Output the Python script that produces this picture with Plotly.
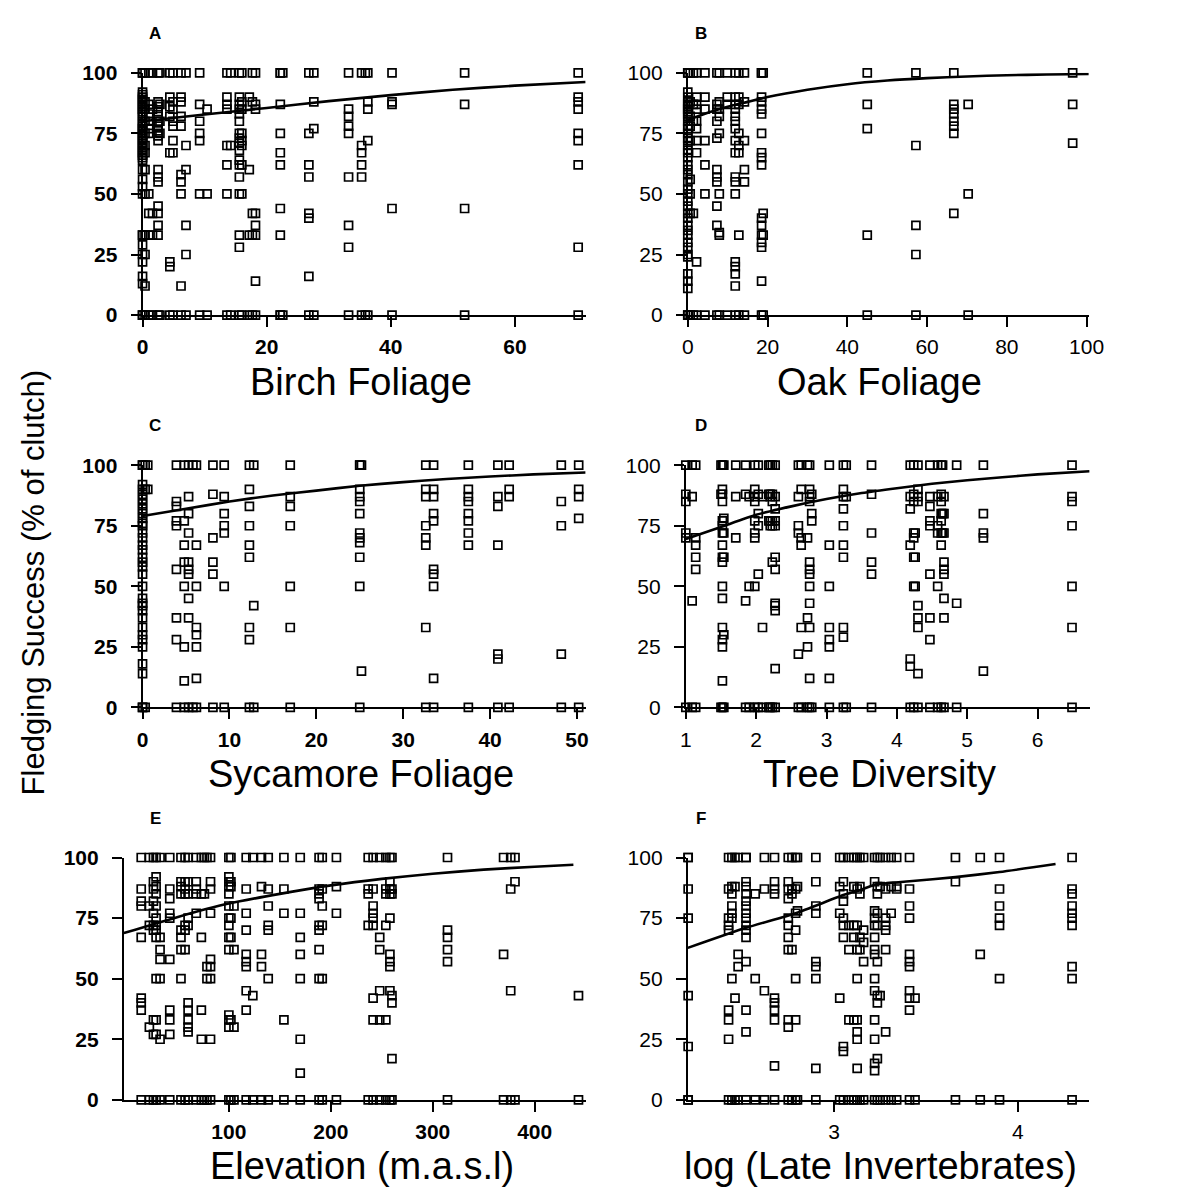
import plotly.graph_objects as go

# ---------------- data ----------------
# each entry: (x value, [fledging success values observed at that x])
birch_cols = [
    (0.0, [100, 100, 92, 91, 90, 89, 88, 87, 86, 85, 84, 83, 82, 80, 79, 78, 77, 76, 75, 74, 73, 72, 71, 70,
           69, 68, 67, 66, 65, 64, 60, 56, 53, 50, 33, 33, 29, 25, 22, 16, 13, 0, 0]),
    (0.4, [100, 88, 85, 80, 75, 70, 67, 60, 50, 33, 25, 12, 0]),
    (1.0, [100, 87, 83, 80, 77, 75, 50, 42, 33, 0]),
    (1.6, [100, 85, 42, 33, 0]),
    (2.5, [100, 88, 86, 84, 82, 80, 78, 76, 74, 72, 60, 57, 55, 45, 42, 37, 33, 0]),
    (2.8, [100, 87, 80, 75, 0]),
    (4.4, [100, 90, 86, 82, 67, 22, 20, 0]),
    (4.9, [100, 88, 85, 80, 78, 72, 67, 0]),
    (6.2, [100, 90, 88, 82, 78, 58, 55, 50, 12, 0]),
    (7.0, [100, 70, 60, 37, 25, 0]),
    (9.2, [100, 87, 80, 75, 72, 50, 0]),
    (10.4, [85, 50, 0]),
    (13.6, [100, 90, 87, 85, 70, 62, 50, 0]),
    (14.2, [100, 70, 0]),
    (15.6, [100, 90, 87, 85, 83, 80, 75, 73, 71, 68, 64, 62, 57, 50, 33, 28, 0]),
    (16.0, [100, 88, 85, 75, 72, 70, 62, 50, 0]),
    (17.2, [90, 60, 33, 0]),
    (17.7, [100, 88, 42, 33, 0]),
    (18.2, [100, 87, 85, 42, 37, 33, 14, 0]),
    (22.2, [100, 100, 87, 75, 67, 62, 44, 33, 0, 0]),
    (22.6, [100, 0]),
    (26.8, [100, 75, 62, 57, 42, 40, 16, 0]),
    (27.6, [100, 88, 77, 0]),
    (33.2, [100, 85, 82, 78, 75, 57, 37, 28, 0]),
    (35.3, [100, 70, 67, 62, 57, 0]),
    (35.9, [100, 0]),
    (36.3, [100, 88, 85, 72, 0]),
    (40.2, [100, 88, 87, 44, 0]),
    (51.9, [100, 87, 44, 0]),
    (70.2, [100, 90, 88, 85, 75, 72, 62, 28, 0]),
]
birch_fit_x = [0, 10, 20, 30, 40, 50, 60, 71.4]
birch_fit_y = [80, 82.8, 85.5, 88.3, 90.8, 93, 94.7, 96.2]

oak_cols = [
    (0.0, [100, 100, 92, 90, 88, 87, 86, 85, 84, 83, 82, 80, 78, 77, 75, 73, 72, 70, 68, 67, 65, 62, 60, 58,
           55, 52, 50, 47, 45, 42, 40, 37, 35, 33, 30, 28, 25, 24, 17, 14, 11, 0, 0]),
    (0.6, [100, 88, 82, 78, 72, 56, 50, 42, 0]),
    (1.4, [100, 87, 80, 42, 0]),
    (2.2, [100, 90, 87, 85, 80, 77, 72, 67, 22, 0]),
    (4.3, [100, 90, 85, 72, 62, 50, 0]),
    (7.3, [100, 87, 85, 80, 73, 60, 57, 55, 45, 37, 0]),
    (7.9, [100, 88, 85, 82, 75, 50, 34, 33, 0]),
    (9.9, [100, 90, 87, 0]),
    (11.9, [100, 90, 87, 85, 82, 80, 77, 72, 67, 57, 55, 50, 22, 20, 17, 12, 0]),
    (12.8, [100, 90, 87, 75, 70, 67, 33, 0]),
    (14.2, [100, 88, 72, 60, 55, 0]),
    (18.5, [100, 100, 90, 88, 85, 83, 75, 67, 65, 62, 40, 37, 33, 30, 28, 14, 0]),
    (18.9, [100, 42, 33, 0]),
    (45.0, [100, 87, 77, 33, 0]),
    (57.2, [100, 70, 37, 25, 0]),
    (66.7, [100, 87, 85, 83, 80, 78, 75, 42]),
    (70.3, [87, 50, 0]),
    (96.5, [100, 87, 71]),
]
oak_fit_x = [0, 5, 10, 15, 20, 30, 40, 50, 60, 70, 80, 90, 101]
oak_fit_y = [80.5, 83.5, 86, 88, 90, 93, 95.3, 96.8, 97.8, 98.5, 99, 99.3, 99.5]

sycamore_cols = [
    (0.0, [100, 100, 92, 90, 88, 86, 84, 82, 80, 78, 76, 75, 72, 70, 67, 65, 62, 60, 58, 55, 50, 45, 43, 42,
           40, 37, 33, 30, 28, 25, 18, 14, 0, 0]),
    (0.3, [100, 90, 0]),
    (0.6, [100, 90]),
    (3.9, [100, 85, 83, 77, 75, 57, 37, 28, 0]),
    (4.8, [100, 77, 67, 60, 50, 25, 11, 0]),
    (5.3, [100, 87, 80, 72, 60, 57, 55, 45, 37, 0]),
    (5.8, [100, 0]),
    (6.2, [100, 67, 50, 33, 30, 25, 12, 0]),
    (8.1, [100, 88, 70, 60, 55, 0]),
    (9.4, [100, 87, 80, 75, 72, 50, 0]),
    (12.3, [100, 90, 83, 75, 67, 62, 33, 28, 0]),
    (12.8, [100, 42, 0]),
    (17.0, [100, 87, 83, 75, 50, 33, 0]),
    (25.0, [100, 100, 90, 87, 85, 80, 72, 70, 68, 62, 50, 0]),
    (25.2, [100, 15]),
    (32.6, [100, 90, 87, 75, 70, 67, 33, 0]),
    (33.5, [100, 90, 87, 80, 77, 57, 55, 50, 12, 0]),
    (37.5, [100, 90, 87, 85, 80, 77, 72, 67, 0]),
    (40.9, [100, 87, 83, 67, 22, 20, 0]),
    (42.2, [100, 90, 87, 0]),
    (48.2, [100, 85, 75, 22, 0]),
    (50.2, [100, 90, 87, 78, 0]),
]
sycamore_fit_x = [0, 5, 10, 15, 20, 25, 30, 35, 40, 45, 51]
sycamore_fit_y = [79, 82, 85, 87.5, 89.5, 91.5, 93, 94.3, 95.3, 96.2, 97]

diversity_cols = [
    (1.00, [100, 88, 85, 72, 70, 0]),
    (1.09, [100, 87, 44, 0]),
    (1.14, [100, 70, 67, 62, 57, 0]),
    (1.50, [100, 88, 0]),
    (1.52, [100, 90, 88, 85, 77, 75, 72, 67, 62, 60, 50, 45, 33, 28, 25, 11, 0]),
    (1.54, [100, 78, 72, 62, 30, 0]),
    (1.71, [100, 87, 70]),
    (1.85, [100, 88, 44, 0]),
    (1.90, [87, 50, 0]),
    (1.98, [100, 90, 87, 85, 77, 72, 70, 50, 0]),
    (2.03, [100, 88, 80, 75, 55, 0]),
    (2.09, [87, 33, 0]),
    (2.18, [100, 88, 77, 0]),
    (2.20, [100, 88, 87, 77, 75, 0]),
    (2.23, [100, 88, 85, 77, 75, 60, 0]),
    (2.27, [100, 87, 82, 77, 75, 62, 57, 43, 42, 40, 16, 0]),
    (2.60, [100, 87, 75, 72, 22, 0]),
    (2.64, [100, 90, 70, 67, 33, 0]),
    (2.73, [100, 70, 37, 25, 0]),
    (2.76, [100, 90, 87, 85, 60, 57, 55, 50, 43, 33, 12, 0]),
    (2.79, [88, 80, 77, 0]),
    (3.04, [100, 67, 50, 33, 28, 25, 12, 0]),
    (3.24, [100, 90, 87, 82, 75, 67, 62, 33, 29, 0]),
    (3.28, [100, 87, 0]),
    (3.64, [100, 88, 72, 60, 55, 0]),
    (4.19, [100, 87, 82, 67, 20, 17, 0]),
    (4.24, [100, 88, 85, 72, 70, 62, 50, 0]),
    (4.26, [72, 62, 50]),
    (4.30, [100, 90, 87, 85, 42, 37, 33, 14, 0]),
    (4.47, [100, 87, 83, 77, 75, 55, 37, 28, 0]),
    (4.58, [100, 87, 75, 72, 50, 0]),
    (4.63, [100, 88, 85, 80, 77, 72, 67, 0]),
    (4.65, [100, 80, 72]),
    (4.67, [87, 80, 72, 60, 57, 55, 45, 37, 0]),
    (4.85, [100, 43, 0]),
    (5.23, [100, 80, 72, 70, 15]),
    (6.49, [100, 87, 85, 75, 50, 33, 0]),
]
diversity_fit_x = [1, 1.5, 2, 2.5, 3, 3.5, 4, 4.5, 5, 5.5, 6, 6.74]
diversity_fit_y = [69.5, 74.5, 79.5, 83, 86, 88.5, 90.5, 92.3, 93.8, 95, 96.2, 97.5]

elevation_cols = [
    (14, [100, 87, 82, 80, 67, 42, 40, 37, 0]),
    (22, [100, 80, 72, 30, 0]),
    (26, [100, 90, 87, 82, 77, 72, 70, 33, 27, 0]),
    (28.6, [100, 92, 88, 85, 80, 75, 72, 70, 67, 50, 33, 27, 0]),
    (32.5, [100, 67, 62, 58, 50, 25, 0]),
    (42, [100, 87, 83, 77, 75, 58, 37, 33, 27, 0]),
    (53, [100, 90, 88, 85, 70, 67, 62, 50, 0]),
    (57, [100, 90, 87, 85, 72, 70, 62, 0]),
    (60, [100, 90, 85, 75, 72, 40, 37, 33, 30, 28, 0]),
    (68, [100, 90, 87, 85, 77, 0]),
    (73, [100, 85, 67, 37, 25, 0]),
    (76, [100, 85, 0]),
    (78.5, [100, 55, 50, 0]),
    (82, [100, 90, 87, 77, 58, 55, 50, 25, 0]),
    (100, [100, 92, 90, 88, 85, 80, 75, 72, 67, 62, 35, 33, 30, 0]),
    (102, [100, 90, 88, 75, 67, 33, 0]),
    (105, [80, 62, 30, 0]),
    (117, [100, 87, 77, 70, 60, 57, 55, 45, 37, 0]),
    (123.5, [100, 43, 0]),
    (132, [100, 88, 60, 55, 0]),
    (138.6, [100, 87, 80, 72, 70, 50, 0]),
    (154, [100, 87, 77, 33, 0]),
    (170, [100, 77, 67, 60, 50, 25, 11, 0]),
    (188.5, [100, 87, 85, 83, 72, 70, 62, 50, 0]),
    (191.6, [100, 87, 80, 72, 50, 0]),
    (205.5, [100, 88, 77, 0]),
    (236.7, [100, 87, 85, 72, 0]),
    (241.5, [100, 87, 80, 77, 75, 72, 42, 33, 0]),
    (248, [100, 67, 62, 45, 33, 0]),
    (254, [100, 87, 85, 72, 33, 0]),
    (258, [100, 90, 87, 85, 75, 60, 57, 55, 45, 0]),
    (260, [100, 87, 85, 43, 40, 17, 0]),
    (314.5, [100, 70, 67, 62, 57, 0]),
    (369.5, [100, 60, 0]),
    (376.5, [100, 87, 45, 0]),
    (380.7, [100, 90, 0]),
    (443, [43, 0]),
]
elevation_fit_x = [-3, 50, 100, 150, 200, 250, 300, 350, 400, 438]
elevation_fit_y = [68.8, 75.5, 81, 85, 88.5, 91.2, 93.3, 95, 96.2, 97]

invert_cols = [
    (2.205, [100, 100, 87, 75, 43, 22, 0, 0]),
    (2.425, [100, 87, 75, 72, 70, 37, 33, 25, 0]),
    (2.443, [100, 88, 85, 80, 77, 75, 50, 0]),
    (2.46, [100, 88, 42, 0]),
    (2.477, [100, 60, 55, 0]),
    (2.52, [100, 100, 90, 88, 85, 82, 80, 77, 75, 72, 70, 67, 57, 37, 28, 0]),
    (2.57, [85, 50, 0]),
    (2.62, [100, 87, 45, 0]),
    (2.675, [100, 90, 87, 85, 42, 40, 37, 33, 14, 0]),
    (2.75, [100, 90, 87, 83, 75, 72, 67, 62, 33, 30, 0]),
    (2.77, [100, 87, 85, 62, 0]),
    (2.79, [100, 87, 77, 70, 50, 33, 0]),
    (2.80, [100, 88, 78, 0]),
    (2.90, [100, 90, 80, 77, 57, 55, 50, 13, 0]),
    (3.03, [100, 88, 77, 42, 0]),
    (3.05, [100, 90, 85, 82, 75, 72, 67, 22, 20, 0]),
    (3.08, [100, 72, 62, 33, 0]),
    (3.107, [100, 88, 72, 67, 33, 0]),
    (3.125, [100, 87, 72, 62, 50, 33, 28, 25, 13, 0]),
    (3.14, [100, 88, 85, 67, 62, 0]),
    (3.16, [100, 70, 65, 57, 0]),
    (3.22, [100, 90, 78, 75, 72, 67, 62, 60, 50, 45, 33, 25, 15, 12, 0]),
    (3.235, [100, 88, 85, 77, 72, 57, 43, 40, 17, 0]),
    (3.25, [100, 88, 43, 0]),
    (3.28, [100, 87, 75, 72, 70, 62, 28, 0]),
    (3.31, [100, 88, 77, 0]),
    (3.34, [100, 88, 87, 0]),
    (3.41, [100, 87, 80, 75, 60, 57, 55, 45, 42, 37, 0]),
    (3.44, [42, 0]),
    (3.66, [100, 90, 0]),
    (3.795, [100, 60, 0]),
    (3.90, [100, 87, 80, 75, 72, 50, 0]),
    (4.295, [100, 87, 85, 80, 77, 75, 72, 55, 50, 0]),
]
invert_fit_x = [2.203, 2.52, 2.79, 3.05, 3.14, 3.22, 3.41, 3.66, 3.9, 4.205]
invert_fit_y = [62.7, 71, 77, 84.5, 86.5, 88.8, 90.2, 91.9, 94, 97.3]

x_titles = ["Birch Foliage", "Oak Foliage", "Sycamore Foliage", "Tree Diversity",
            "Elevation (m.a.s.l)", "log (Late Invertebrates)"]
panel_letters = ["A", "B", "C", "D", "E", "F"]
x_ranges = [[0, 71.4], [0, 100.5], [0, 51], [1, 6.74], [-3, 450], [2.203, 4.385]]
x_ticks = [[0, 20, 40, 60], [0, 20, 40, 60, 80, 100], [0, 10, 20, 30, 40, 50],
           [1, 2, 3, 4, 5, 6], [100, 200, 300, 400], [3, 4]]
y_ticks = [0, 25, 50, 75, 100]
y_title = "Fledging Success (% of clutch)"

# ---------------- layout geometry ----------------
W, H = 1194, 1203
x_dom_px = [(139, 590), (694, 1102), (139, 590), (692, 1103), (120, 590), (694, 1102)]
y_dom_px = [(62, 309), (62, 309), (462, 709), (462, 709), (862, 1109), (862, 1109)]
title_px = [(361, 377), (889, 377), (361, 777), (889, 777), (362, 1177), (890, 1177)]
letter_px = [(152, 22), (707, 22), (152, 422), (707, 422), (152, 822), (707, 822)]

FONT = "Liberation Sans, Arial, sans-serif"
panels = [(birch_cols, birch_fit_x, birch_fit_y),
          (oak_cols, oak_fit_x, oak_fit_y),
          (sycamore_cols, sycamore_fit_x, sycamore_fit_y),
          (diversity_cols, diversity_fit_x, diversity_fit_y),
          (elevation_cols, elevation_fit_x, elevation_fit_y),
          (invert_cols, invert_fit_x, invert_fit_y)]

fig = go.Figure()
annotations = []
for i, (cols, fx, fy) in enumerate(panels):
    n = i + 1
    xa = "x" if n == 1 else f"x{n}"
    ya = "y" if n == 1 else f"y{n}"
    xs, ys = [], []
    for xv, yl in cols:
        for yv in yl:
            xs.append(xv)
            ys.append(yv)
    fig.add_trace(go.Scatter(
        x=xs, y=ys, mode="markers", xaxis=xa, yaxis=ya, cliponaxis=False,
        marker=dict(symbol="square-open", size=8, color="black", line=dict(width=1.7, color="black")),
        showlegend=False, hoverinfo="x+y"))
    fig.add_trace(go.Scatter(
        x=fx, y=fy, mode="lines", xaxis=xa, yaxis=ya, cliponaxis=False,
        line=dict(color="black", width=2.6, shape="spline", smoothing=0.6),
        showlegend=False, hoverinfo="skip"))

    bold = (i % 2 == 0)
    tf = dict(family=FONT, size=21, color="black", weight="bold" if bold else "normal")
    x0, x1 = x_dom_px[i]
    y0, y1 = y_dom_px[i]
    xkey = "xaxis" if n == 1 else f"xaxis{n}"
    ykey = "yaxis" if n == 1 else f"yaxis{n}"
    fig.update_layout(**{
        xkey: dict(domain=[x0 / W, x1 / W], range=x_ranges[i], anchor=ya,
                   showgrid=False, zeroline=False, showline=True, linecolor="black", linewidth=2,
                   ticks="outside", ticklen=10, tickwidth=2, tickcolor="black",
                   tickmode="array", tickvals=x_ticks[i], tickfont=tf, ticklabelstandoff=2),
        ykey: dict(domain=[1 - y1 / H, 1 - y0 / H], range=[0, 100], anchor=xa,
                   showgrid=False, zeroline=False, showline=True, linecolor="black", linewidth=2,
                   ticks="outside", ticklen=10, tickwidth=2, tickcolor="black",
                   tickmode="array", tickvals=y_ticks, tickfont=tf, ticklabelstandoff=9),
    })
    tx, ty = title_px[i]
    annotations.append(dict(text=x_titles[i], x=tx / W, y=1 - ty / H, xref="paper", yref="paper",
                            xanchor="center", yanchor="middle", showarrow=False,
                            font=dict(family=FONT, size=38, color="black")))
    lx, ly = letter_px[i]
    annotations.append(dict(text=f"<b>{panel_letters[i]}</b>", x=lx / W, y=1 - ly / H,
                            xref="paper", yref="paper", xanchor="center", yanchor="middle",
                            showarrow=False, font=dict(family=FONT, size=17, color="black")))

annotations.append(dict(text=y_title, x=28 / W, y=1 - 582 / H, xref="paper", yref="paper",
                        xanchor="center", yanchor="middle", textangle=-90, showarrow=False,
                        font=dict(family=FONT, size=31, color="black")))

fig.update_layout(width=W, height=H, margin=dict(l=0, r=0, t=0, b=0),
                  paper_bgcolor="white", plot_bgcolor="white",
                  annotations=annotations, showlegend=False)

fig.write_html("out.html")
